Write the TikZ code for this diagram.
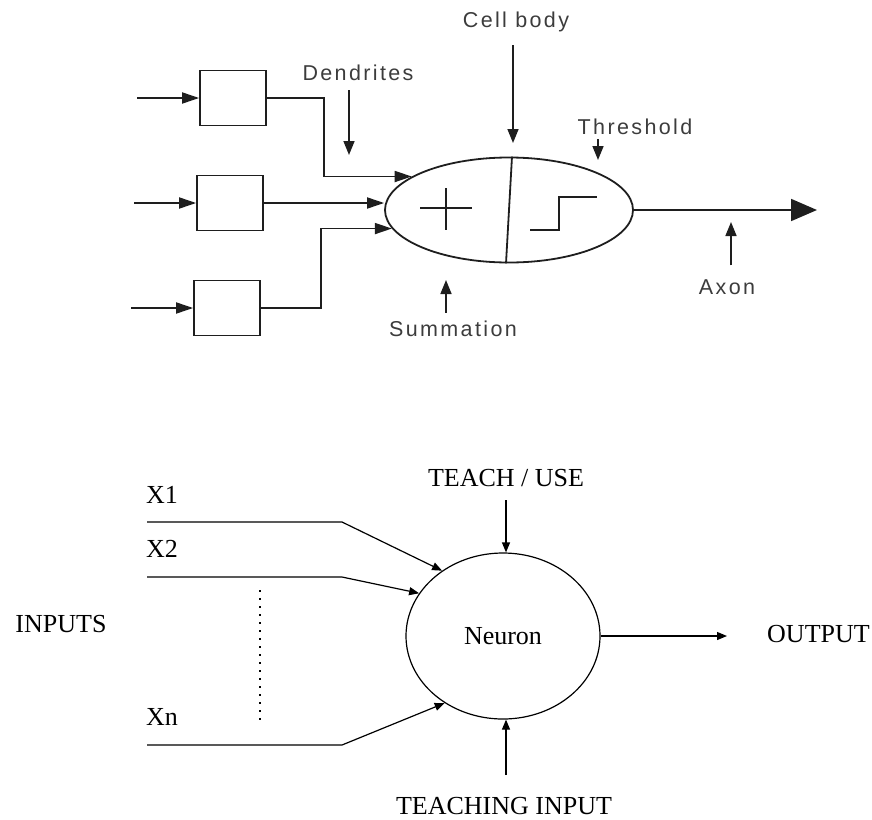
\documentclass[tikz,border=0pt]{standalone}
\usepackage{fontspec}
\setmainfont{Liberation Serif}
\newfontfamily\labelfont[LetterSpace=11]{Liberation Sans}
\usepackage{xcolor}
\definecolor{ink}{HTML}{1E1E1E}
\definecolor{labelgray}{HTML}{3C3C3C}
\usetikzlibrary{arrows.meta,positioning,shapes.geometric}
\tikzset{
  synbox/.style  = {rectangle, draw=ink, line width=1.8pt,
                    minimum width=66pt, minimum height=55pt},
  soma/.style    = {ellipse, draw=ink, line width=1.8pt,
                    minimum width=248pt, minimum height=105pt},
  lbl/.style     = {font=\labelfont\fontsize{21.5}{25}\selectfont,
                    text=labelgray, inner sep=0pt},
  wire/.style    = {draw=ink, line width=1.8pt, -{Triangle[length=17pt,width=11pt]}},
  pointer/.style = {draw=ink, line width=1.6pt, -{Triangle[length=14pt,width=11pt]}},
  unit/.style    = {ellipse, draw=black, line width=1.2pt,
                    minimum width=194pt, minimum height=166pt},
  txt/.style     = {font=\fontsize{26}{30}\selectfont, inner sep=0pt},
  barr/.style    = {draw=black, line width=1.2pt, -{Triangle[length=10pt,width=8pt]}}
}

\begin{document}
\begin{tikzpicture}[x=1pt,y=-1pt]
  \useasboundingbox (0,0) rectangle (872,819);
  % biological neuron
  \node[soma] (cell) at (509,210) {};
  \foreach \n/\x/\y in {1/233/98,2/230/203,3/227/308}{
    \node[synbox] (b\n) at (\x,\y) {};
    \coordinate (in\n) at (\x-96,\y);
    \draw[wire] (in\n) -- (b\n.west);
  }
  \draw[wire] (b1.east) -- ++(57,0) |- (cell.161);
  \draw[wire] (b2.east) -- (b2.east -| cell.west);
  \draw[wire] (b3.east) -- ++(60,0) |- (cell.189);
  \draw[draw=ink, line width=1.8pt] ([xshift=3pt]cell.north) -- ([xshift=-3pt]cell.south);
  \draw[draw=ink, line width=1.2pt] (420,208) -- (472,208) (446,188) -- (446,230);
  \draw[draw=ink, line width=1.5pt] (530,230) -- (559,230) -- (559,197) -- (597,197);
  \coordinate (axend) at (817,208);
  \draw[wire, -{Triangle[length=26pt,width=22pt]}] (cell.east) -- (cell.east -| axend);

  \node[lbl] (dend) at (358,73)  {Dendrites};
  \node[lbl] (cb)   at (516,22)  {Cell body};
  \node[lbl] (thr)  at (635,127) {Threshold};
  \node[lbl] (sum)  at (453,329) {Summation};
  \node[lbl] (axon) at (727,287) {Axon};
  \coordinate (dendtip) at (349,155);
  \coordinate (cbtip)   at (513,143);
  \coordinate (thrtip)  at (598,160);
  \coordinate (sumtip)  at (446,280);
  \coordinate (axtip)   at (731,222);
  \draw[pointer, shorten <=9pt]  (dend.south -| dendtip) -- (dendtip);
  \draw[pointer, shorten <=13pt] (cb.south -| cbtip) -- (cbtip);
  \draw[pointer, shorten <=4pt]  (thr.south -| thrtip) -- (thrtip);
  \draw[pointer, shorten <=8pt]  (sum.north -| sumtip) -- (sumtip);
  \draw[pointer, shorten <=14pt] (axon.north -| axtip) -- (axtip);

  % artificial neuron
  \node[unit, txt] (neu) at (503,636) {Neuron};
  \node[txt] (tu) at (506,478) {TEACH / USE};
  \node[txt] (ti) at (504,806) {TEACHING INPUT};
  \coordinate (tubase) at (506,500);
  \coordinate (tibase) at (506,775);
  \draw[barr] (tubase) -- (tubase |- neu.north);
  \draw[barr] (tibase) -- (tibase |- neu.south);

  \node[txt, anchor=west] (x1) at (146,495) {X1};
  \node[txt, anchor=west] (x2) at (146,549) {X2};
  \node[txt, anchor=west] (xn) at (146,717) {Xn};
  \foreach \lab/\y/\ang in {x1/522/133,x2/577/153,xn/745/229}{
    \coordinate (\lab s) at (147,\y);
    \coordinate (\lab k) at (342,\y);
    \draw[barr] (\lab s) -- (\lab k) -- (neu.\ang);
  }
  \coordinate (dtop) at (260,590);
  \coordinate (dbot) at (260,722);
  \draw[line width=1.5pt, dash pattern=on 2pt off 6pt] (dtop) -- (dbot);

  \node[txt] (inputs) at (61,624) {INPUTS};
  \node[txt, anchor=west] (output) at (767,634) {OUTPUT};
  \draw[barr, shorten >=40pt] (neu.east) -- (neu.east -| output.west);
\end{tikzpicture}
\end{document}
